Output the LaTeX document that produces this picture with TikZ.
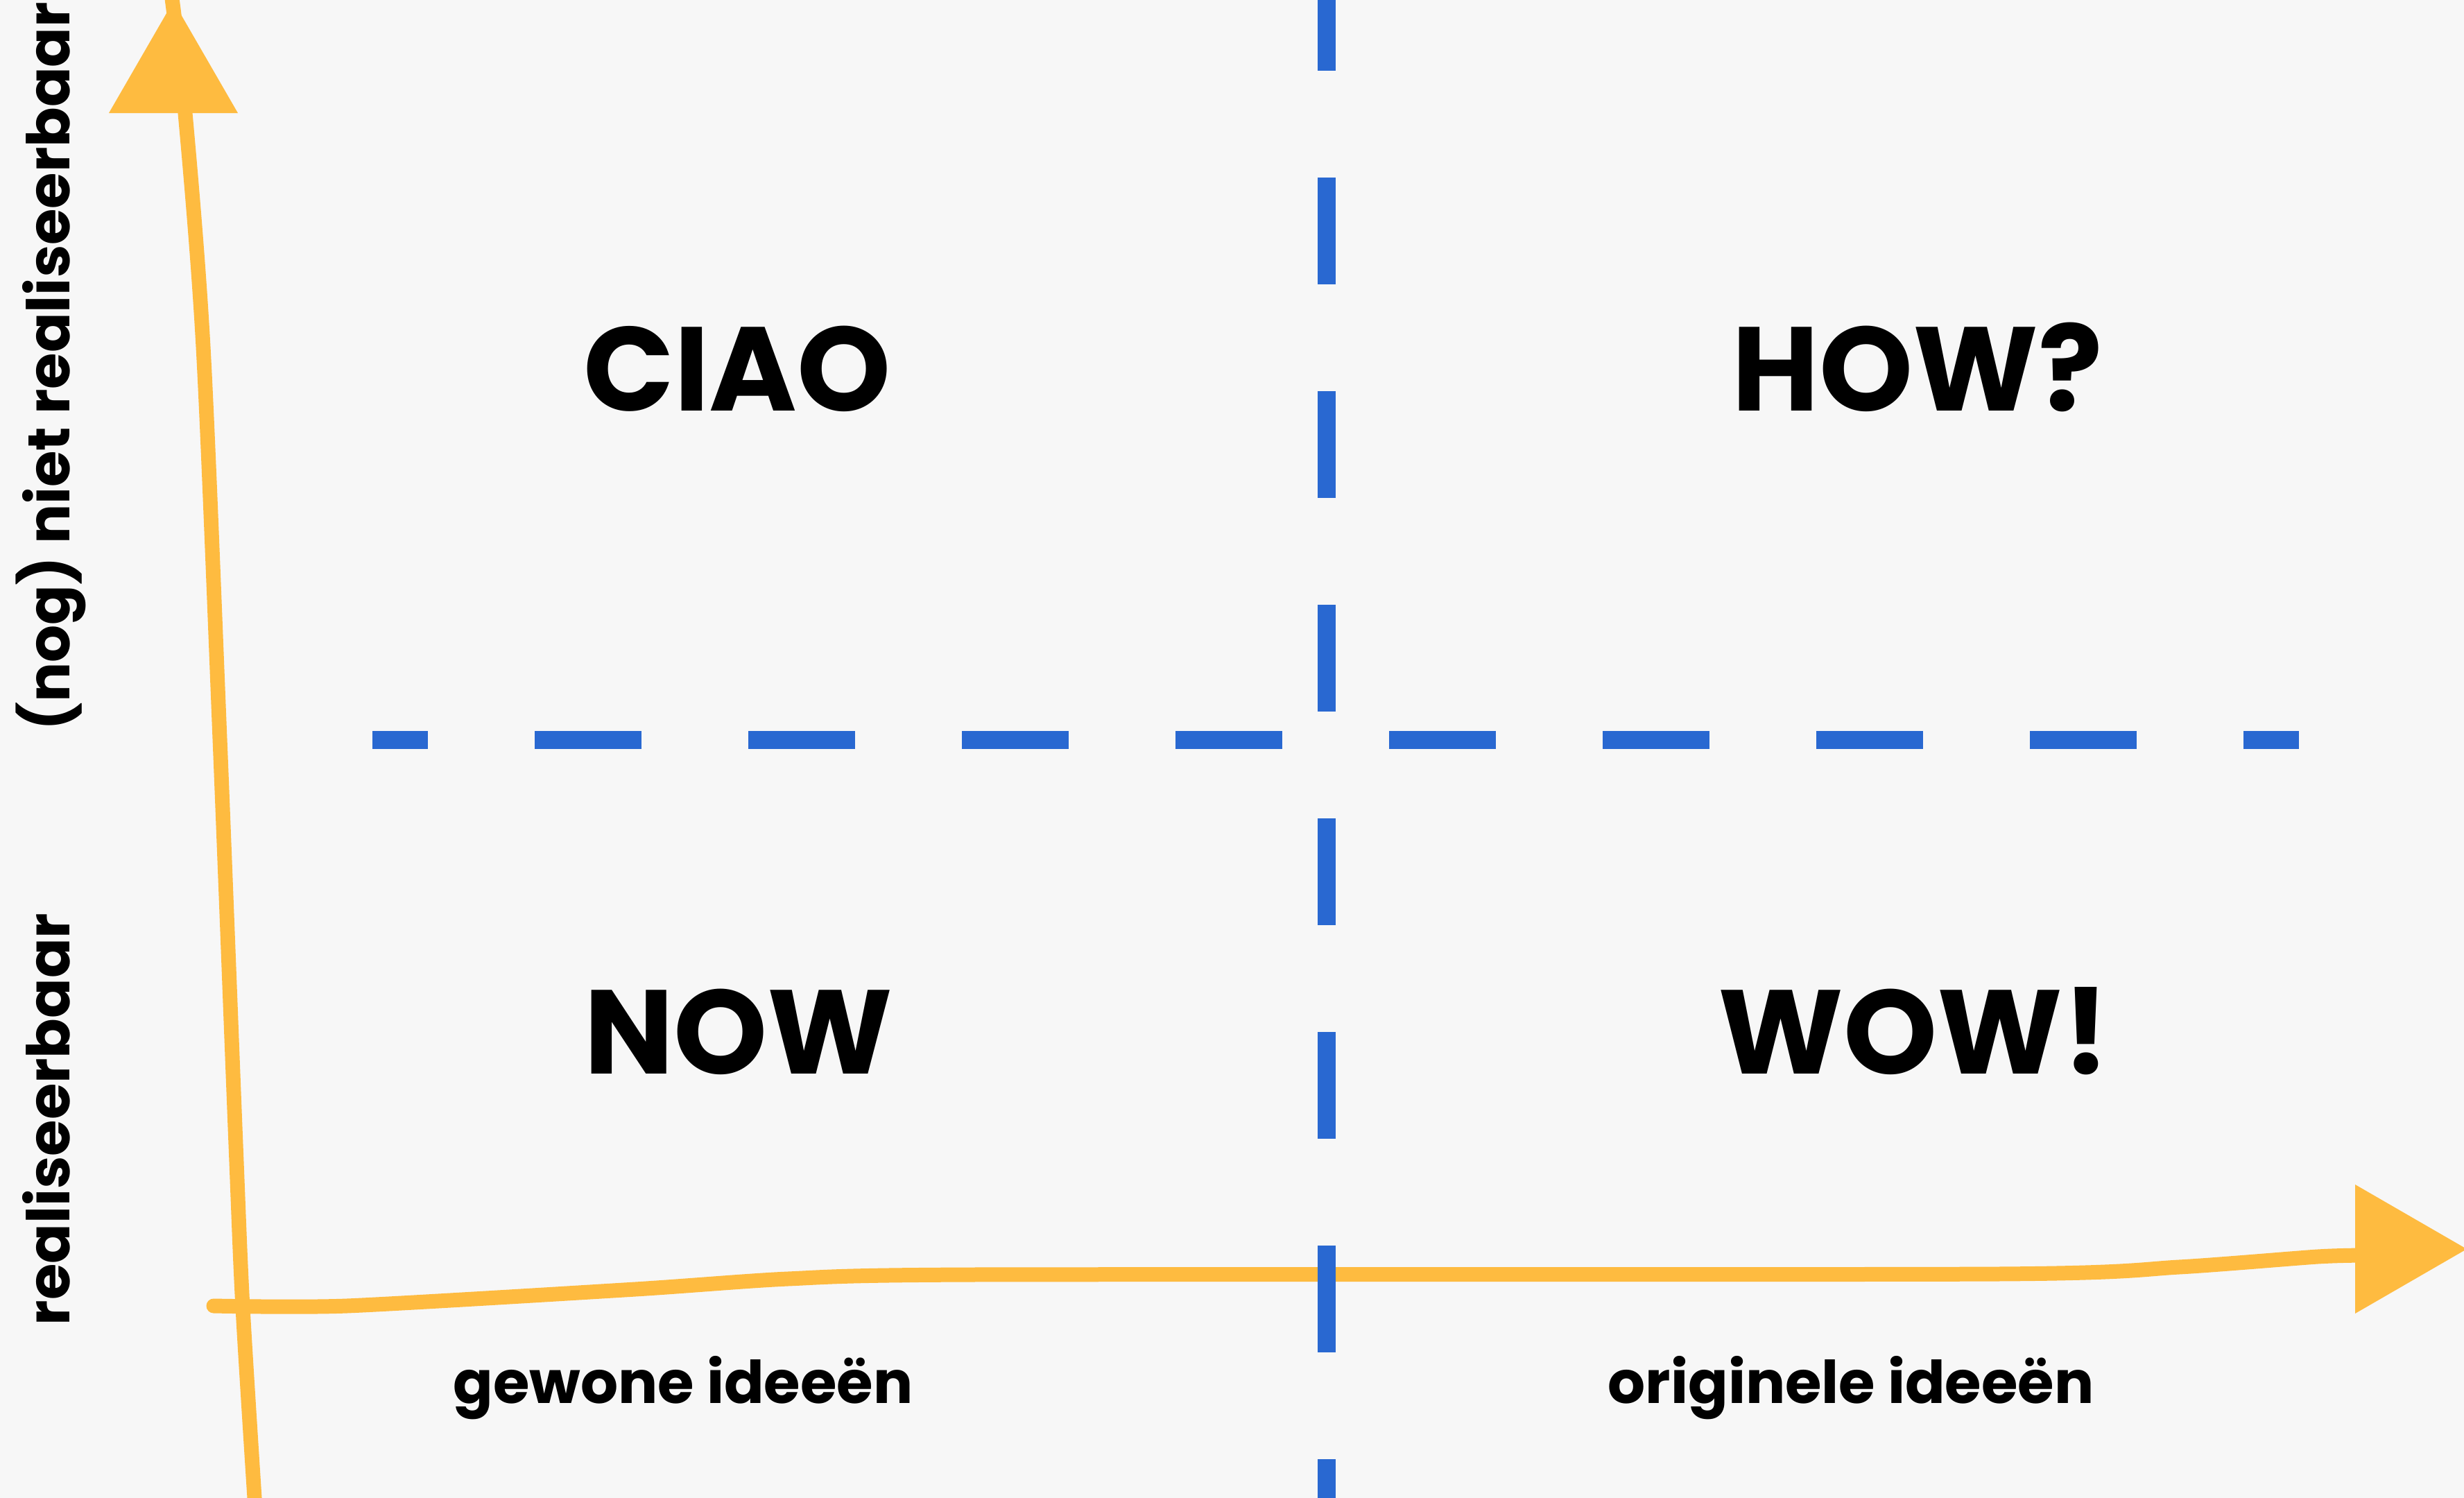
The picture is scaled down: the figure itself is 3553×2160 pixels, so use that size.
\documentclass[tikz,border=0pt]{standalone}
\usepackage{fontspec}
\setmainfont{Poppins}
\definecolor{bgcol}{HTML}{F7F7F7}
\definecolor{axisorange}{HTML}{FEBB40}
\definecolor{divblue}{HTML}{2968D1}
\begin{document}
\begin{tikzpicture}[x=1pt,y=-1pt,
  axisline/.style={draw=axisorange, line width=21pt},
  arrowtri/.style={fill=axisorange},
  divider/.style={draw=divblue, line width=26pt, dash pattern=on 154pt off 154pt},
  quad/.style={font=\bfseries\fontsize{172pt}{172pt}\selectfont, anchor=base, inner sep=0pt, text=black},
  lab/.style={font=\bfseries\fontsize{85pt}{85pt}\selectfont, anchor=base, inner sep=0pt, text=black}]
\useasboundingbox (0,0) rectangle (3553,2160);
\clip (0,0) rectangle (3553,2160);
\fill[bgcol] (0,0) rectangle (3553,2160);

% axes
\coordinate (ytip) at (250,2);
\coordinate (xtip) at (3557,1801);
\coordinate (xstart) at (308,1883);
\draw[axisline] plot[smooth, tension=0.5] coordinates {(247,-10) (267,163) (293,500) (317,1065) (340,1650) (350,1885) (368,2175)};
\draw[axisline, line cap=round] plot[smooth, tension=0.4] coordinates {(xstart) (500,1883) (916,1859) (1136,1844) (1400,1838) (2880,1837) (3142,1827) (3342,1812) (3410,1810)};
\fill[arrowtri] (157,163) -- (ytip) -- (343,163) -- cycle;
\fill[arrowtri] (3396,1708) -- (xtip) -- (3396,1894) -- cycle;

% dividers
\coordinate (vtop) at (1913,0);
\coordinate (vbot) at (1913,2160);
\coordinate (hleft) at (537,1067);
\coordinate (hright) at (3315,1067);
\draw[divider, dash phase=52pt] (vtop) -- (vbot);
\draw[divider, dash phase=74pt] (hleft) -- (hright);

% quadrant labels
\node[quad] (ciao) at (1063,592) {CIAO};
\node[quad] (how) at (2765,592) {HOW?};
\node[quad] (now) at (1065,1548) {NOW};
\node[quad] (wow) at (2760,1548) {WOW!};

% axis labels
\node[lab] (gewone) at (985,2023) {gewone ideeën};
\node[lab] (origineel) at (2669,2023) {originele ideeën};
\node[lab, rotate=90] (niet) at (100,528) {(nog) niet realiseerbaar};
\node[lab, rotate=90] (real) at (100,1614) {realiseerbaar};
\end{tikzpicture}
\end{document}
